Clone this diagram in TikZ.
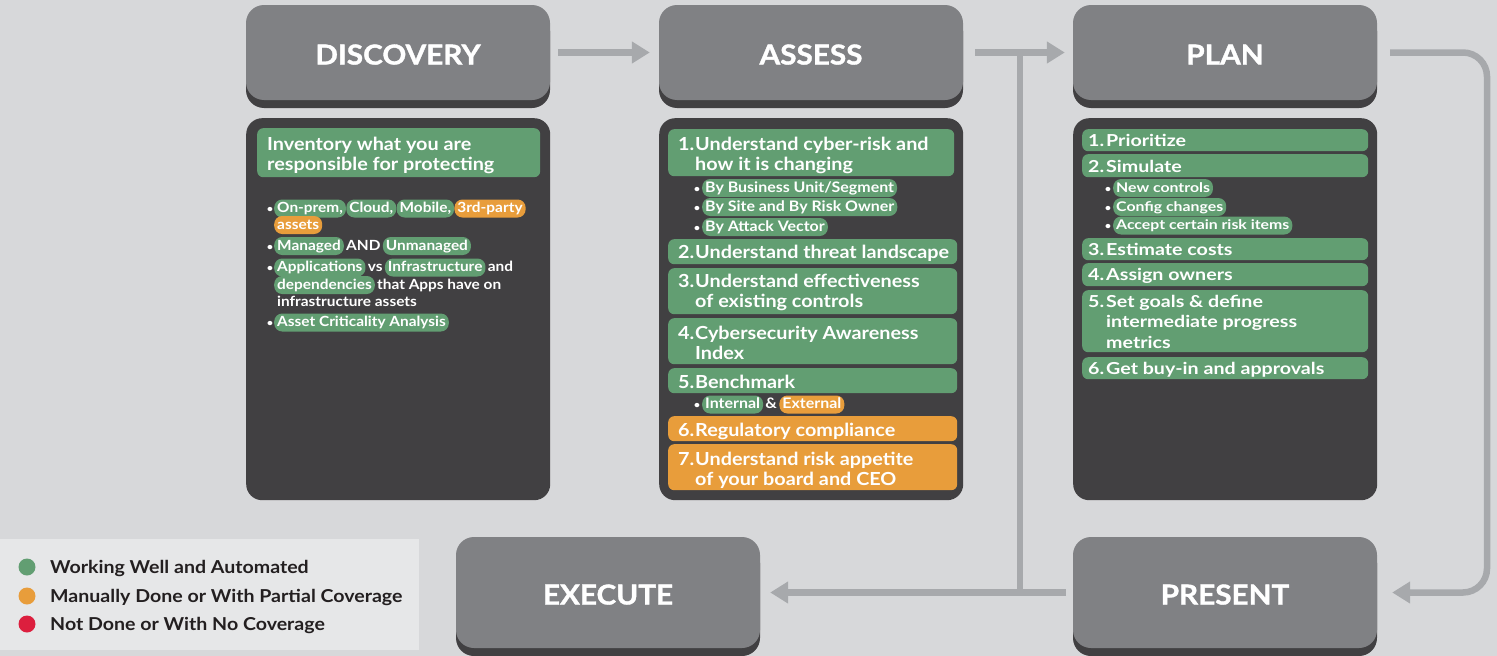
\documentclass[tikz,border=0pt]{standalone}
\usepackage{fontspec}
\setmainfont{Lato}[FakeStretch=1.1]
\newfontfamily\planfont{Lato}[FakeStretch=1.19]
\newfontfamily\hdrfont{Lato}[FakeStretch=1.08, FakeBold=1.3]
\usetikzlibrary{shadows,arrows.meta}
\definecolor{bgc}{HTML}{D7D8DA}
\definecolor{legc}{HTML}{E6E7E8}
\definecolor{hdrc}{HTML}{808184}
\definecolor{darkc}{HTML}{414042}
\definecolor{arrc}{HTML}{A7A9AC}
\definecolor{grn}{HTML}{629E72}
\definecolor{org}{HTML}{E89D3B}
\definecolor{redc}{HTML}{DC1F3E}
\definecolor{legtxt}{HTML}{231F20}
\newcommand\numi[3]{\makebox[#1][l]{#2}\begin{tabular}[t]{@{}l@{}}#3\end{tabular}}
\begin{document}
\begin{tikzpicture}[x=1pt,y=-1pt,
  hdr/.style={fill=hdrc, rounded corners=18pt, minimum width=304pt, inner sep=0pt, text=white,
    text height=24pt, text depth=0pt,
    font=\hdrfont\fontsize{27.5}{28}\selectfont\bfseries, general shadow={fill=darkc, shadow yshift=-8pt}},
  bodyb/.style={fill=darkc, rounded corners=16pt, minimum width=304pt, minimum height=382pt, anchor=north west, inner sep=0pt},
  gbox/.style={fill=grn, rounded corners=6pt, anchor=north west, inner sep=0pt},
  obox/.style={gbox, fill=org},
  itxt/.style={anchor=base west, inner sep=0pt, text=white, font=\fontsize{18}{20}\selectfont\bfseries},
  ptxt/.style={itxt, font=\planfont\fontsize{16.5}{20.5}\selectfont\bfseries},
  gp/.style={fill=grn, rounded corners=8pt, anchor=base west, inner xsep=3pt, inner ysep=2pt, text height=11pt, text depth=3pt, text=white},
  op/.style={gp, fill=org},
  tx/.style={anchor=base west, inner xsep=2pt, inner ysep=0pt, text=white},
  bul/.style={anchor=base, inner sep=0pt, text=white, font=\fontsize{10}{10}\selectfont\bfseries},
  arr/.style={draw=arrc, line width=6.5pt, -{Triangle[length=18pt,width=21pt]}},
  lin/.style={draw=arrc, line width=6.5pt},
  lt/.style={anchor=base west, inner sep=0pt, text=legtxt, font=\fontsize{17.8}{20}\selectfont\bfseries},
  dot/.style={circle, inner sep=0pt, minimum size=17pt}
]
\useasboundingbox (0,0) rectangle (1497,656);
\fill[bgc] (0,0) rectangle (1497,656);

% headers
\node[hdr, minimum height=95pt] (disc) at (398,52.5) {DISCOVERY};
\node[hdr, minimum height=95pt] (ass) at (811,52.5) {ASSESS};
\node[hdr, minimum height=95pt] (plan) at (1225,52.5) {PLAN};
\node[hdr, minimum height=111pt] (exe) at (608,592.5) {EXECUTE};
\node[hdr, minimum height=111pt] (pres) at (1225,592.5) {PRESENT};

% bodies
\node[bodyb] (dbody) at (246,118) {};
\node[bodyb] (abody) at (659,118) {};
\node[bodyb] (pbody) at (1073,118) {};

% connectors
\coordinate (j1) at (1020,52.5);
\coordinate (j2) at (1020,592.5);
\coordinate (rl) at (1487,300);
\draw[arr] ([xshift=8pt]disc.east) -- ([xshift=-9pt]ass.west);
\draw[arr] ([xshift=12pt]ass.east) -- ([xshift=-8pt]plan.west);
\draw[lin] (j1) -- (j2);
\draw[arr] ([xshift=-7pt]pres.west) -- ([xshift=10pt]exe.east);
\draw[arr, rounded corners=24pt] ([xshift=13pt]plan.east) -| (rl) |- ([xshift=15pt]pres.east);

% discovery content
\node[gbox, minimum width=283pt, minimum height=49pt] (d0) at (257,128) {};
\node[itxt] (d0t) at (267,150) {\begin{tabular}[t]{@{}l@{}}Inventory what you are\\responsible for protecting\end{tabular}};
\begin{scope}[every node/.append style={font=\fontsize{14}{17}\selectfont\bfseries}]
\node[bul] (db1) at (270,212.5) {•};
\node[gp] (d1a) at (274,212.5) {On-prem,};
\node[gp] (d1b) at (d1a.base east) {Cloud,};
\node[gp] (d1c) at (d1b.base east) {Mobile,};
\node[op] (d1d) at (d1c.base east) {3rd-party};
\node[op] (d2a) at (274,229) {assets};
\node[bul] (db3) at (270,250) {•};
\node[gp] (d3a) at (274,250) {Managed};
\node[tx] (d3b) at (d3a.base east) {AND};
\node[gp] (d3c) at (d3b.base east) {Unmanaged};
\node[bul] (db4) at (270,271.5) {•};
\node[gp] (d4a) at (274,271.5) {Applications};
\node[tx] (d4b) at (d4a.base east) {vs};
\node[gp] (d4c) at (d4b.base east) {Infrastructure};
\node[tx] (d4d) at (d4c.base east) {and};
\node[gp] (d5a) at (274,289) {dependencies};
\node[tx] (d5b) at (d5a.base east) {that Apps have on};
\node[tx] (d6a) at (275,306) {infrastructure assets};
\node[bul] (db7) at (270,326.5) {•};
\node[gp] (d7a) at (274,326.5) {Asset Criticality Analysis};
\end{scope}

% assess content
\node[gbox, minimum width=286pt, minimum height=47pt] (a1) at (668,129) {};
\node[gbox, minimum width=289pt, minimum height=25pt] (a2) at (668,239) {};
\node[gbox, minimum width=289pt, minimum height=46pt] (a3) at (668,268) {};
\node[gbox, minimum width=289pt, minimum height=46pt] (a4) at (668,318) {};
\node[gbox, minimum width=289pt, minimum height=25pt] (a5) at (668,368) {};
\node[obox, minimum width=289pt, minimum height=25pt] (a6) at (668,416) {};
\node[obox, minimum width=289pt, minimum height=46pt] (a7) at (668,444) {};
\node[itxt] (a1t) at (678,150) {\numi{17pt}{1.}{Understand cyber-risk and\\how it is changing}};
\node[itxt] (a2t) at (678,258) {\numi{17pt}{2.}{Understand threat landscape}};
\node[itxt] (a3t) at (678,287) {\numi{17pt}{3.}{Understand effectiveness\\of existing controls}};
\node[itxt] (a4t) at (678,339) {\numi{17pt}{4.}{Cybersecurity Awareness\\Index}};
\node[itxt] (a5t) at (678,388) {\numi{17pt}{5.}{Benchmark}};
\node[itxt] (a6t) at (678,436) {\numi{17pt}{6.}{Regulatory compliance}};
\node[itxt] (a7t) at (678,465) {\numi{17pt}{7.}{Understand risk appetite\\of your board and CEO}};
\begin{scope}[every node/.append style={font=\fontsize{14.5}{17}\selectfont\bfseries}]
\node[bul] (ab1) at (697,192) {•};
\node[gp] (as1) at (702,192) {By Business Unit/Segment};
\node[bul] (ab2) at (697,211) {•};
\node[gp] (as2) at (702,211) {By Site and By Risk Owner};
\node[bul] (ab3) at (697,231) {•};
\node[gp] (as3) at (702,231) {By Attack Vector};
\node[bul] (ab5) at (697,408.5) {•};
\node[gp] (as5a) at (702,408.5) {Internal};
\node[tx] (as5b) at (as5a.base east) {\&};
\node[op] (as5c) at (as5b.base east) {External};
\end{scope}

% plan content
\node[gbox, minimum width=286pt, minimum height=22pt] (p1) at (1082,129) {};
\node[gbox, minimum width=286pt, minimum height=23pt] (p2) at (1082,154) {};
\node[gbox, minimum width=286pt, minimum height=22pt] (p3) at (1082,238) {};
\node[gbox, minimum width=286pt, minimum height=23pt] (p4) at (1082,263) {};
\node[gbox, minimum width=286pt, minimum height=62pt] (p5) at (1082,290) {};
\node[gbox, minimum width=286pt, minimum height=22pt] (p6) at (1082,357) {};
\node[ptxt] (p1t) at (1088,146) {\numi{18pt}{1.}{Prioritize}};
\node[ptxt] (p2t) at (1088,172) {\numi{18pt}{2.}{Simulate}};
\node[ptxt] (p3t) at (1088,255) {\numi{18pt}{3.}{Estimate costs}};
\node[ptxt] (p4t) at (1088,280) {\numi{18pt}{4.}{Assign owners}};
\node[ptxt] (p5t) at (1088,307) {\numi{18pt}{5.}{Set goals \& define\\intermediate progress\\metrics}};
\node[ptxt] (p6t) at (1088,374) {\numi{18pt}{6.}{Get buy-in and approvals}};
\begin{scope}[every node/.append style={font=\planfont\fontsize{13.3}{17}\selectfont\bfseries}]
\node[bul] (pb1) at (1108,192) {•};
\node[gp] (ps1) at (1113,192) {New controls};
\node[bul] (pb2) at (1108,211) {•};
\node[gp] (ps2) at (1113,211) {Config changes};
\node[bul] (pb3) at (1108,229.5) {•};
\node[gp] (ps3) at (1113,229.5) {Accept certain risk items};
\end{scope}

% legend
\node[fill=legc, anchor=north west, minimum width=419pt, minimum height=111pt, inner sep=0pt] (leg) at (0,539) {};
\node[dot, fill=grn] (c1) at (27,567) {};
\node[dot, fill=org] (c2) at (27,596) {};
\node[dot, fill=redc] (c3) at (27,624) {};
\node[lt] (l1) at (50,573.5) {Working Well and Automated};
\node[lt] (l2) at (50,602.5) {Manually Done or With Partial Coverage};
\node[lt] (l3) at (50,630.5) {Not Done or With No Coverage};
\end{tikzpicture}
\end{document}
